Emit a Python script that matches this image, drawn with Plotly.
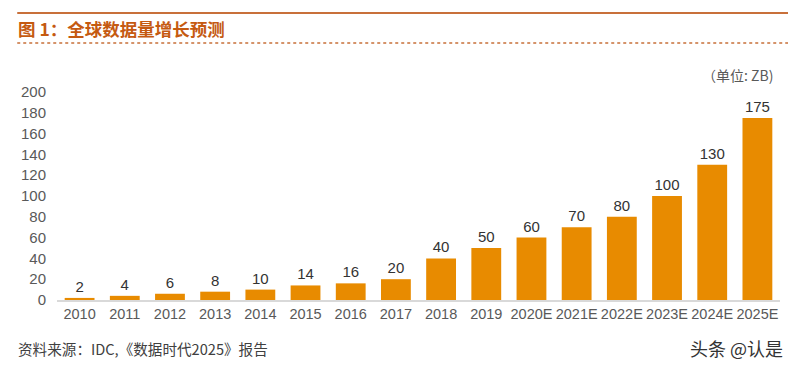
import plotly.graph_objects as go

years = ["2010", "2011", "2012", "2013", "2014", "2015", "2016", "2017", "2018", "2019",
         "2020E", "2021E", "2022E", "2023E", "2024E", "2025E"]
values = [2, 4, 6, 8, 10, 14, 16, 20, 40, 50, 60, 70, 80, 100, 130, 175]
y_ticks = [0, 20, 40, 60, 80, 100, 120, 140, 160, 180, 200]

FONT = "Liberation Sans, Noto Sans CJK SC, sans-serif"
CJK = "Noto Sans CJK SC, sans-serif"

fig = go.Figure()
fig.add_trace(go.Bar(
    x=years, y=values, marker_color="#E88B00", marker_line_width=0,
    width=0.66,
    text=[str(v) for v in values], textposition="outside",
    textfont=dict(size=15, color="#333333", family=FONT),
    cliponaxis=False,
))

fig.update_layout(
    width=788, height=361,
    margin=dict(l=49, r=16, t=84, b=69),
    paper_bgcolor="white", plot_bgcolor="white",
    showlegend=False,
    xaxis=dict(type="category", showgrid=False, showline=True, linecolor="#D9D9D9", linewidth=1.5,
               ticks="", tickangle=0, automargin=False,
               tickfont=dict(size=14.5, color="#595959", family=FONT)),
    yaxis=dict(range=[0, 200], tickvals=y_ticks, showgrid=False, zeroline=False, showline=False,
               ticks="", ticklabelstandoff=10, automargin=False,
               tickfont=dict(size=15, color="#595959", family=FONT)),
    annotations=[
        dict(text="<b>图 1：全球数据量增长预测</b>", xref="paper", yref="paper", x=-0.057, y=1.305,
             xanchor="left", yanchor="middle", showarrow=False,
             font=dict(size=17.5, color="#C55A11", family=CJK)),
        dict(text="（单位: ZB)", xref="paper", yref="paper", x=0.993, y=1.082,
             xanchor="right", yanchor="middle", showarrow=False,
             font=dict(size=14, color="#595959", family=CJK)),
        dict(text="资料来源：IDC,《数据时代2025》报告", xref="paper", yref="paper", x=-0.057, y=-0.231,
             xanchor="left", yanchor="middle", showarrow=False,
             font=dict(size=14.6, color="#404040", family=CJK)),
        dict(text="头条 @认是", xref="paper", yref="paper", x=1.007, y=-0.231,
             xanchor="right", yanchor="middle", showarrow=False,
             font=dict(size=18, color="#333333", family=CJK)),
    ],
)

fig.add_shape(type="line", xref="paper", yref="paper", x0=-0.055, x1=1.03, y0=1.38, y1=1.38,
              line=dict(color="#C8703A", width=2))
fig.add_shape(type="line", xref="paper", yref="paper", x0=-0.055, x1=1.03, y0=1.236, y1=1.236,
              line=dict(color="#C8703A", width=1.5, dash="dot"))

fig.write_html("out.html")
